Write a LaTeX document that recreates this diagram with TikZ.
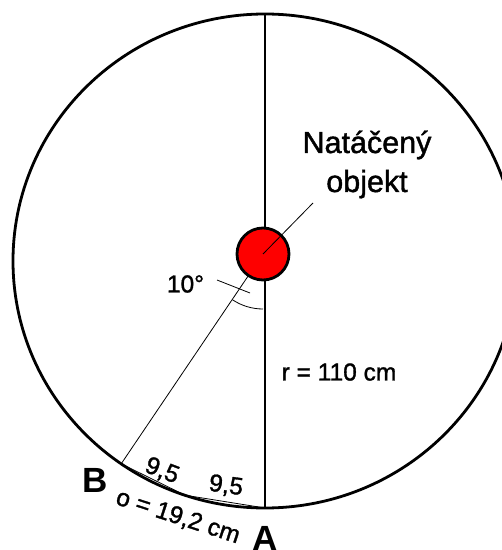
\documentclass[tikz,border=0pt]{standalone}
\usepackage{fontspec}
\setmainfont{Liberation Sans}
\newfontfamily\medfont[FakeBold=1.3]{Liberation Sans}
\usepackage{tikz}
\usetikzlibrary{positioning, calc}
\definecolor{objRed}{HTML}{fe0000}

\begin{document}
\begin{tikzpicture}[x=1pt,y=1pt,thk/.style={line width=2.8pt},thn/.style={line width=0.8pt},lbl/.style={inner sep=0pt,font=\medfont\fontsize{24.5}{28}\selectfont},pt/.style={inner sep=0pt,font=\fontsize{35}{38}\selectfont\bfseries}]
\useasboundingbox (0,0) rectangle (502,550);
\coordinate (c) at (265,289);
\coordinate (top) at (265,536); \coordinate (a) at (265,42);
\coordinate (b) at ($(c)+(235.2:252 and 247)$);
\coordinate (m) at ($(c)+(251.5:252 and 247)$);
\coordinate (d) at (263,296); \coordinate (lead) at (313,347);
\coordinate (t1) at (217,270); \coordinate (t2) at (250,257);
% kruh a polomer
\draw[thk] (c) ellipse [x radius=252, y radius=247];
\draw[thk] (top) -- (a);
\draw[thn] (d) -- (b);
\draw[thn] (b) -- (m) -- (a);
\draw[thn] ($(d)+(236.2:55)$) arc[start angle=236.2, end angle=270, radius=55];
\draw[thn] (t1) -- (t2);
\node[thk, draw, circle, fill=objRed, minimum size=52pt, inner sep=0pt] (obj) at (d) {};
\draw[thn] (obj.center) -- (lead);
% popisky
\node[inner sep=0pt, anchor=base, font=\medfont\fontsize{30.5}{36}\selectfont] (obj2) at (367,358) {objekt};
\node[inner sep=0pt, anchor=base, font=\medfont\fontsize{30.5}{36}\selectfont] (obj1) at (367,397) {Natáčený};
\node[lbl] (deg) at (185.5,266) {10°};
\node[lbl, anchor=base] (rad) at (339,169.5) {r = 110 cm};
\node[lbl, rotate=-21] (s1) at (162,79) {9,5};
\node[lbl, rotate=-8] (s2) at (226,64) {9,5};
\node[lbl, rotate=-18] (arcl) at (178,33) {o = 19,2 cm};
\node[pt] (lb) at (95,70) {B};
\node[pt, anchor=base] (la) at (265,-1) {A};
\end{tikzpicture}
\end{document}
